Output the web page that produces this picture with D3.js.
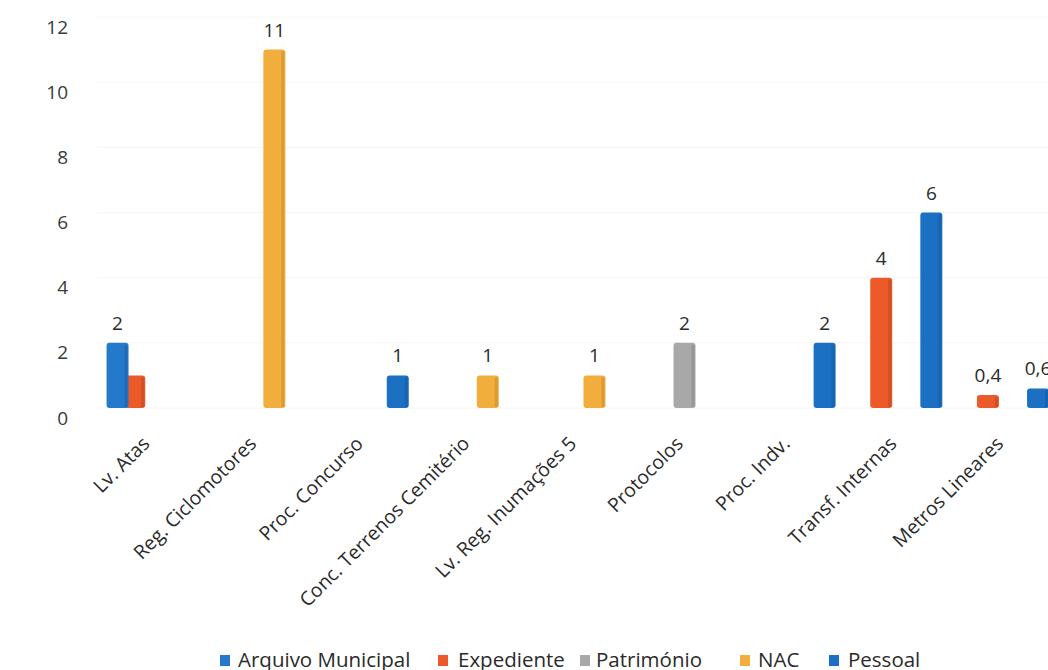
<!DOCTYPE html>
<html><head><meta charset="utf-8">
<script src="https://cdn.jsdelivr.net/npm/d3@7"></script>
<style>
html,body{margin:0;padding:0;background:#fff;}
svg{display:block;font-family:"Open Sans","Noto Sans",sans-serif;}
</style></head>
<body>
<svg id="chart" width="1048" height="670"></svg>
<script>
const categories = ["Lv. Atas","Reg. Ciclomotores","Proc. Concurso","Conc. Terrenos Cemitério","Lv. Reg. Inumações 5","Protocolos","Proc. Indv.","Transf. Internas","Metros Lineares"];
const seriesNames = ["Arquivo Municipal","Expediente","Património","NAC","Pessoal"];
const arquivoMunicipal = [2,0,0,0,0,0,0,0,0];
const expediente      = [1,0,0,0,0,0,0,4,0.4];
const patrimonio      = [0,0,0,0,0,2,0,0,0];
const nac             = [0,11,0,1,1,0,0,0,0];
const pessoal         = [0,0,1,0,0,0,2,6,0.6];
const yTicks = [0,2,4,6,8,10,12];
const hiddenLabels = [["Expediente","Lv. Atas"]];

const seriesValues = [arquivoMunicipal, expediente, patrimonio, nac, pessoal];
const colors = ["#2479CB","#EC5A2A","#A8A8A8","#F2AE3C","#1C70C4"];
const darker = colors.map(c => d3.color(c).darker(0.7).formatHex());

const svg = d3.select("#chart");
const y = d3.scaleLinear().domain([0,12]).range([408,17]);
const x = d3.scaleBand().domain(categories).range([97.6,1058]).padding(0);
const xs = d3.scaleBand().domain(seriesNames).range([-41.75,41.75]).padding(0);
const barW = 22;

// faint gridlines
svg.append("g").selectAll("line").data(yTicks).join("line")
  .attr("x1",97).attr("x2",1048)
  .attr("y1",d=>y(d)).attr("y2",d=>y(d))
  .attr("stroke","#f6f6f6").attr("stroke-width",1);

// y tick labels
const yAxis = d3.axisLeft(y).tickValues(yTicks).tickSize(0).tickPadding(0).tickFormat(d3.format("d"));
const ya = svg.append("g").attr("transform","translate(68,10)").call(yAxis);
ya.select(".domain").remove();
ya.selectAll("text").attr("font-size",19).attr("fill","#3a3a3a").attr("font-family","'Open Sans',sans-serif");

// bars
const bars = [];
seriesNames.forEach((s,si)=>{
  seriesValues[si].forEach((v,ci)=>{
    if(v>0) bars.push({s,si,cat:categories[ci],v});
  });
});
const order = bars.slice().sort((a,b)=>b.si-a.si);
const bg = svg.append("g");
order.forEach(d=>{
  const cx = x(d.cat)+x.bandwidth()/2 + xs(d.s)+xs.bandwidth()/2;
  const g = bg.append("g");
  g.append("rect").attr("x",cx-barW/2).attr("y",y(d.v)).attr("width",barW).attr("height",y(0)-y(d.v))
    .attr("rx",3).attr("fill",colors[d.si]);
  g.append("rect").attr("x",cx+barW/2-4).attr("y",y(d.v)+2).attr("width",3).attr("height",Math.max(0,y(0)-y(d.v)-3))
    .attr("fill",darker[d.si]).attr("opacity",0.5);
});

// value labels
const fmt = v => String(v).replace(".",",");
svg.append("g").selectAll("text")
  .data(bars.filter(d=>!hiddenLabels.some(h=>h[0]===d.s&&h[1]===d.cat)))
  .join("text")
  .attr("x",d=>x(d.cat)+x.bandwidth()/2+xs(d.s)+xs.bandwidth()/2)
  .attr("y",d=>y(d.v)-13)
  .attr("text-anchor","middle").attr("font-size",19).attr("fill","#2a2a2a")
  .text(d=>fmt(d.v));

// category labels
const xAxis = d3.axisBottom(x).tickSize(0).tickPadding(0);
const xa = svg.append("g").attr("transform","translate(0,432)").call(xAxis);
xa.select(".domain").remove();
xa.selectAll("text")
  .attr("font-size",19.5).attr("fill","#2a2a2a").attr("font-family","'Open Sans',sans-serif")
  .attr("text-anchor","end").attr("dy","0.35em").attr("x",0).attr("y",0)
  .attr("transform","translate(-5,8) rotate(-45)");

// legend
const legX = [220,438,580,740,829];
const legTX = [238,458,596,758,848];
const lg = svg.append("g");
seriesNames.forEach((s,i)=>{
  lg.append("rect").attr("x",legX[i]).attr("y",655).attr("width",10).attr("height",11).attr("fill",colors[i]);
  lg.append("text").attr("x",legTX[i]).attr("y",667).attr("font-size",20.5).attr("fill","#2a2a2a").text(s);
});
</script>
</body></html>
